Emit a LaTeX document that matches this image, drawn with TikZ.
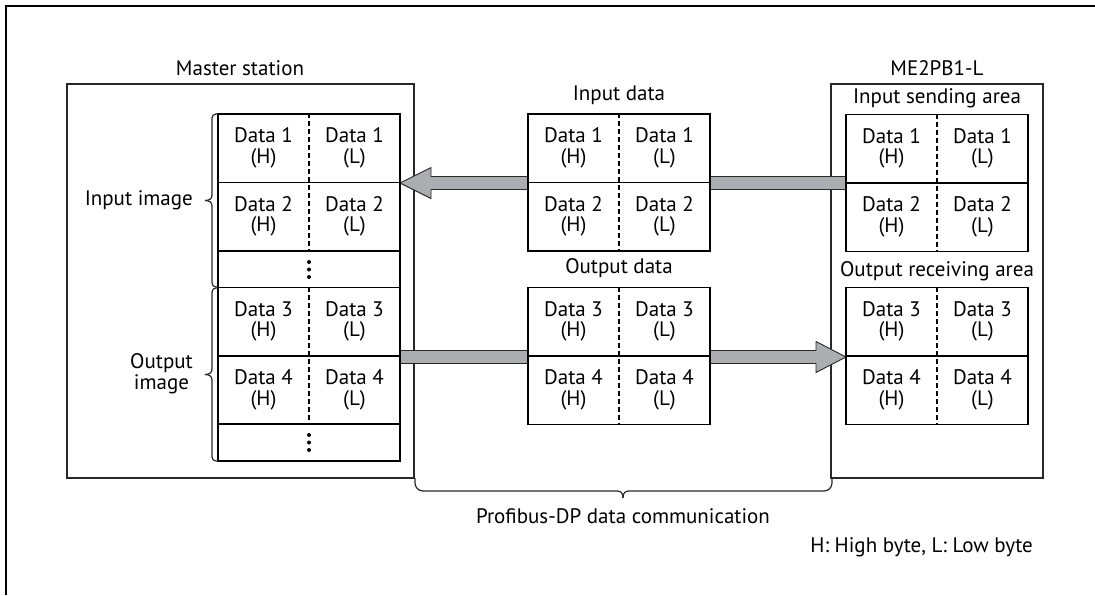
\documentclass[tikz,border=0pt]{standalone}
\usepackage{fontspec}
\setmainfont{PT Sans}
\usetikzlibrary{calc}
\definecolor{arrowgray}{RGB}{171,173,176}
\definecolor{edgegray}{RGB}{40,40,40}
\tikzset{
  lbl/.style={inner sep=0pt, font=\fontsize{21}{21}\selectfont},
  cell/.style={inner sep=0pt, align=center, font=\fontsize{21}{20.5}\selectfont},
  blk/.style={draw=black, line width=1.6pt, fill=white, minimum width=182pt, minimum height=137pt, inner sep=0pt},
  dotrow/.style={draw=black, line width=1.6pt, fill=white, minimum width=182pt, minimum height=37pt, inner sep=0pt},
  unitbox/.style={draw=edgegray, line width=1.3pt, fill=white, inner sep=0pt},
  divline/.style={line width=1.4pt, dash pattern=on 5pt off 3pt},
  gflow/.style={draw=edgegray, line width=0.9pt, fill=arrowgray},
  brc/.style={line width=1.2pt, draw=edgegray},
}
\newcommand{\dblock}[4]{%
  \node[blk] (#1) at (#2) {};
  \draw[line width=1.6pt] (#1.west) -- (#1.east);
  \draw[divline] (#1.north) -- (#1.south);
  \node[cell] at ($(#1.center)+(-45.5,-34.5)$) {Data #3\\(H)};
  \node[cell] at ($(#1.center)+(45.5,-34.5)$) {Data #3\\(L)};
  \node[cell] at ($(#1.center)+(-45.5,34)$) {Data #4\\(H)};
  \node[cell] at ($(#1.center)+(45.5,34)$) {Data #4\\(L)};
}
\begin{document}
\begin{tikzpicture}[x=1pt,y=-1pt]
\useasboundingbox (0,0) rectangle (1095,595);
% frame
\draw[line width=2pt] (6,595) -- (6,6) -- (1095,6);
% unit boxes
\node[unitbox, minimum width=347pt, minimum height=394pt] (master) at (240.5,281) {};
\node[unitbox, minimum width=212pt, minimum height=394pt] (slave) at (937,281) {};
\node[lbl] (masterlbl) at (240,68) {Master station};
\node[lbl] (slavelbl) at (937,68) {ME2PB1-L};
\node[lbl] (sendlbl) at (937,98) {Input sending area};
\node[lbl] (recvlbl) at (937,271) {Output receiving area};
\node[lbl] (inlbl) at (619,95) {Input data};
\node[lbl] (outlbl) at (619,268) {Output data};
% coordinates for arrow ends
\coordinate (mInE) at (400,183);
\coordinate (mOutE) at (400,357);
\coordinate (rInW) at (846,183);
\coordinate (rOutW) at (846,357);
% input arrow (right to left)
\draw[gflow] ($(rInW)+(0,-6.5)$) -- ($(mInE)+(31,-6.5)$) -- ($(mInE)+(31,-15.5)$) -- (mInE)
  -- ($(mInE)+(31,15.5)$) -- ($(mInE)+(31,6.5)$) -- ($(rInW)+(0,6.5)$) -- cycle;
% output arrow (left to right)
\draw[gflow] ($(mOutE)+(0,-6.5)$) -- ($(rOutW)+(-30,-6.5)$) -- ($(rOutW)+(-30,-15.5)$) -- (rOutW)
  -- ($(rOutW)+(-30,15.5)$) -- ($(rOutW)+(-30,6.5)$) -- ($(mOutE)+(0,6.5)$) -- cycle;
% blocks
\dblock{mIn}{309,182.5}{1}{2}
\node[dotrow] (mDots1) at (309,269.5) {};
\dblock{mOut}{309,356}{3}{4}
\node[dotrow] (mDots2) at (309,442.5) {};
\foreach \yy in {269.5,442.5}{
  \fill (309,\yy-7.5) circle (2pt);
  \fill (309,\yy) circle (2pt);
  \fill (309,\yy+7.5) circle (2pt);
}
\dblock{cIn}{619,182.5}{1}{2}
\dblock{cOut}{619,356}{3}{4}
\dblock{rIn}{937,183}{1}{2}
\dblock{rOut}{937,356}{3}{4}
% left braces
\draw[brc, rounded corners=4pt] (218,114) -- (212,114) -- (212,195);
\draw[brc] (212,195) .. controls (212,199) and (209,200.5) .. (205,200.5);
\draw[brc] (212,206) .. controls (212,202) and (209,200.5) .. (205,200.5);
\draw[brc, rounded corners=4pt] (212,206) -- (212,287) -- (218,287);
\draw[brc, rounded corners=4pt] (218,288) -- (212,288) -- (212,369);
\draw[brc] (212,369) .. controls (212,373) and (209,374.5) .. (205,374.5);
\draw[brc] (212,380) .. controls (212,376) and (209,374.5) .. (205,374.5);
\draw[brc, rounded corners=4pt] (212,380) -- (212,461) -- (218,461);
\node[lbl, anchor=east] (inimg) at (193,200) {Input image};
\node[lbl, anchor=east, align=center] (outimg) at (193,374) {Output\\image};
% bottom brace
\draw[brc, rounded corners=8pt] (415,478) -- (415,491) -- (617,491);
\draw[brc] (617,491) .. controls (621,491) and (623,493) .. (623,498);
\draw[brc] (629,491) .. controls (625,491) and (623,493) .. (623,498);
\draw[brc, rounded corners=8pt] (629,491) -- (832,491) -- (832,478);
\node[lbl] (profi) at (623,516) {Profibus-DP data communication};
\node[lbl, anchor=east] (legend) at (1033,547) {H: High byte, L: Low byte};
\end{tikzpicture}
\end{document}
